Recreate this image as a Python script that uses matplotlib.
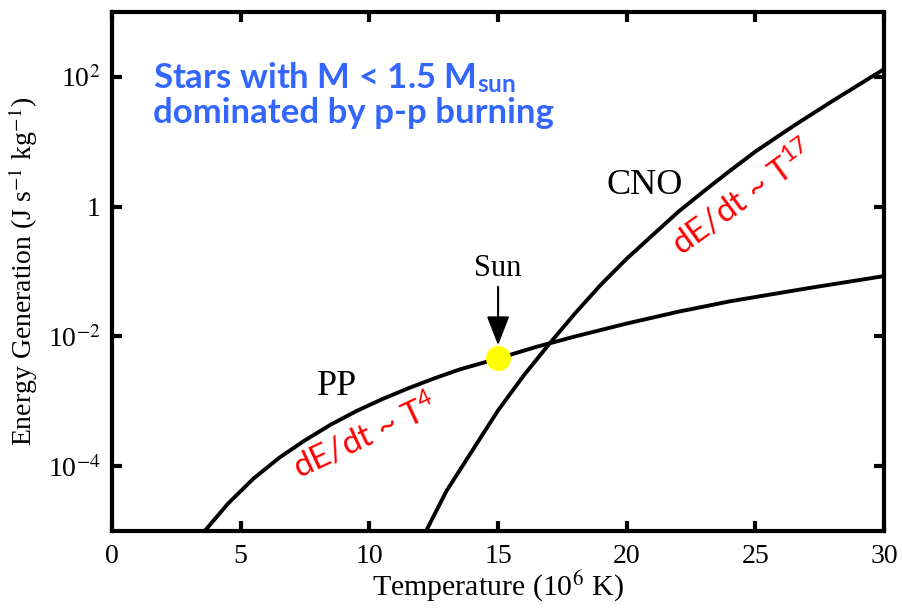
import matplotlib
matplotlib.use("Agg")
import matplotlib.pyplot as plt
from matplotlib.ticker import FixedLocator, FixedFormatter, NullLocator

# curves (temperature in 10^6 K, energy in J/s/kg)
pp_T = [3.6, 4.5, 5.5, 6.5, 7.5, 8.5, 9.5, 10.5, 11.5, 12.5, 13.5, 15.0,
        16.5, 18.0, 20.0, 22.0, 24.0, 27.0, 30.0]
pp_E = [1.0e-5, 2.63e-5, 6.46e-5, 1.35e-4, 2.51e-4, 4.37e-4, 7.08e-4, 1.08e-3,
        1.58e-3, 2.24e-3, 3.09e-3, 4.57e-3, 6.92e-3, 1.0e-2, 1.58e-2, 2.40e-2,
        3.47e-2, 5.50e-2, 8.51e-2]

cno_T = [12.2, 13.0, 14.0, 15.0, 16.0, 17.0, 18.0, 19.0, 20.0, 21.0, 22.0,
         23.0, 24.0, 25.0, 26.5, 28.0, 30.0]
cno_E = [1.0e-5, 4.17e-5, 1.74e-4, 7.24e-4, 2.51e-3, 7.76e-3, 2.29e-2, 6.31e-2,
         0.158, 0.363, 0.832, 1.74, 3.55, 7.08, 17.8, 42.7, 132.0]

sun_T = 15.0
sun_E = 4.57e-3

x_ticks = [0, 5, 10, 15, 20, 25, 30]
y_ticks = [1e-4, 1e-2, 1, 1e2]
y_labels = ["10$^{-4}$", "10$^{-2}$", "1", "10$^{2}$"]

plt.rcParams["font.family"] = ["Liberation Serif", "DejaVu Serif"]
plt.rcParams["mathtext.fontset"] = "stix"

fig = plt.figure(figsize=(9.02, 6.08), dpi=100)
ax = fig.add_axes([0.1242, 0.1266, 0.856, 0.8536])

ax.plot(pp_T, pp_E, color="black", lw=2.8, solid_capstyle="butt")
ax.plot(cno_T, cno_E, color="black", lw=2.8, solid_capstyle="butt")
ax.plot(sun_T, sun_E, "o", color="#ffff00", ms=18, mec="none", zorder=5)

ax.set_yscale("log")
ax.set_xlim(0, 30)
ax.set_ylim(1e-5, 1e3)

ax.xaxis.set_major_locator(FixedLocator(x_ticks))
ax.yaxis.set_major_locator(FixedLocator(y_ticks))
ax.yaxis.set_major_formatter(FixedFormatter(y_labels))
ax.yaxis.set_minor_locator(NullLocator())

for s in ax.spines.values():
    s.set_linewidth(3)
ax.tick_params(which="major", direction="in", length=7, width=3,
               top=True, right=True, labelsize=20)
ax.tick_params(axis="x", pad=9)
ax.tick_params(axis="y", pad=8)

ax.set_xlabel("Temperature (10$^{6}$ K)", fontsize=21.5, labelpad=0)
ax.set_ylabel("Energy Generation (J s$^{-1}$ kg$^{-1}$)", fontsize=20, labelpad=6)

# labels on the curves
ax.text(8.74, 1.7e-3, "PP", fontsize=26, ha="center", va="center")
ax.text(20.7, 2.1, "CNO", fontsize=26, ha="center", va="center")
ax.text(15.0, 0.112, "Sun", fontsize=22, ha="center", va="center")
ax.annotate("", xy=(15.0, 7.3e-3), xytext=(15.0, 5.8e-2),
            arrowprops=dict(arrowstyle="-|>,head_length=0.9,head_width=0.35",
                            color="black", lw=1.5, mutation_scale=20,
                            shrinkA=0, shrinkB=0))

red = "#ff0000"
ax.text(9.83, 2.9e-4, r"dE/dt ~ T$^{\mathregular{4}}$", color=red, fontsize=24,
        family="Lato", rotation=25, rotation_mode="anchor", ha="center", va="center")
ax.text(24.5, 1.38, r"dE/dt ~ T$^{\mathregular{17}}$", color=red, fontsize=24,
        family="Lato", rotation=36, rotation_mode="anchor", ha="center", va="center")

blue = "#3366ff"
fig.text(0.1696, 0.8553, r"Stars with M < 1.5 M$_{\mathregular{sun}}$", color=blue,
         fontsize=25, family="Lato", weight="bold", va="baseline")
fig.text(0.1696, 0.7977, "dominated by p-p burning", color=blue,
         fontsize=25, family="Lato", weight="bold", va="baseline")

fig.savefig("out.png", dpi=100)
